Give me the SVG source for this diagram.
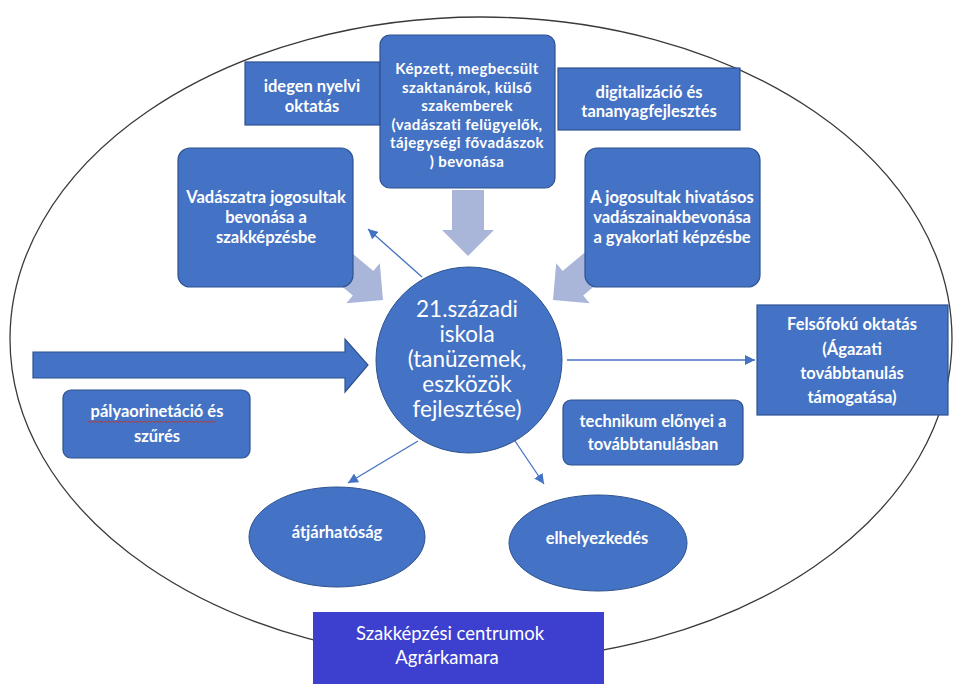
<svg xmlns="http://www.w3.org/2000/svg" width="955" height="684" viewBox="0 0 955 684">
  <defs>
    <style>
      .box { fill: #4472C4; stroke: #2F528F; stroke-width: 1.2; }
      .t { fill: #FFFFFF; font-family: Lato, "Liberation Sans", sans-serif; font-weight: bold; font-size: 16.5px; text-anchor: middle; }
      .ts { fill: #FFFFFF; font-family: Lato, "Liberation Sans", sans-serif; font-weight: bold; font-size: 15px; letter-spacing: 0.4px; text-anchor: middle; }
      .tc { fill: #FFFFFF; font-family: Lato, "Liberation Sans", sans-serif; font-size: 22.5px; text-anchor: middle; }
      .tb { fill: #FFFFFF; font-family: Lato, "Liberation Sans", sans-serif; font-size: 18.5px; text-anchor: middle; }
      .thin { stroke: #4472C4; stroke-width: 1.3; fill: none; }
      .block { fill: #A9B6DA; }
    </style>
    <marker id="ah" markerUnits="userSpaceOnUse" markerWidth="12" markerHeight="10" refX="10" refY="5" orient="auto">
      <path d="M0,0 L10,5 L0,10 Z" fill="#4472C4"/>
    </marker>
    <path id="blk" d="M-66,-16 L-26,-16 L-26,-26 L0,0 L-26,26 L-26,16 L-66,16 Z"/>
  </defs>

  <rect width="955" height="684" fill="#FFFFFF"/>

  <g id="frame">
    <ellipse cx="481" cy="339" rx="471" ry="322" fill="none" stroke="#3A3A3A" stroke-width="1.3"/>
  </g>

  <g id="connectors">
    <use href="#blk" class="block" transform="translate(468,256) rotate(90)"/>
    <use href="#blk" class="block" transform="translate(383,300) rotate(40)"/>
    <use href="#blk" class="block" transform="translate(553,300) rotate(140)"/>
    <path d="M33,352 L345,352 L345,339 L368,365 L345,392 L345,378 L33,378 Z" fill="#4472C4" stroke="#2F528F" stroke-width="1.2"/>
    <line class="thin" x1="422" y1="277" x2="368" y2="229" marker-end="url(#ah)"/>
    <line class="thin" x1="567" y1="360" x2="755" y2="360" marker-end="url(#ah)"/>
    <line class="thin" x1="418" y1="441" x2="348" y2="483" marker-end="url(#ah)"/>
    <line class="thin" x1="515" y1="441" x2="544" y2="484" marker-end="url(#ah)"/>
  </g>

  <g id="node-idegen">
    <rect class="box" x="245" y="62" width="135" height="63"/>
    <text class="t" x="312" y="92">idegen nyelvi</text>
    <text class="t" x="312" y="112">oktatás</text>
  </g>

  <g id="node-digitalizacio">
    <rect class="box" x="558" y="68" width="182" height="62"/>
    <text class="t" x="649" y="98">digitalizáció és</text>
    <text class="t" x="649" y="117">tananyagfejlesztés</text>
  </g>

  <g id="node-szaktanarok">
    <rect class="box" x="380" y="35" width="175" height="153" rx="10"/>
    <text class="ts" x="467" y="74">Képzett, megbecsült</text>
    <text class="ts" x="467" y="92.5">szaktanárok, külső</text>
    <text class="ts" x="467" y="111">szakemberek</text>
    <text class="ts" x="467" y="129.5">(vadászati felügyelők,</text>
    <text class="ts" x="467" y="148">tájegységi fővadászok</text>
    <text class="ts" x="467" y="166.5">) bevonása</text>
  </g>

  <g id="node-vadaszatra">
    <rect class="box" x="178" y="148" width="175" height="139" rx="12"/>
    <text class="t" x="266" y="203">Vadászatra jogosultak</text>
    <text class="t" x="266" y="223">bevonása a</text>
    <text class="t" x="266" y="243">szakképzésbe</text>
  </g>

  <g id="node-hivatasos">
    <rect class="box" x="585" y="148" width="175" height="139" rx="12"/>
    <text class="t" x="672" y="203">A jogosultak hivatásos</text>
    <text class="t" x="672" y="223">vadászainakbevonása</text>
    <text class="t" x="672" y="243">a gyakorlati képzésbe</text>
  </g>

  <g id="node-iskola">
    <circle cx="469" cy="360" r="93" fill="#4472C4" stroke="#2F528F" stroke-width="1"/>
    <text class="tc" x="467" y="317">21.századi</text>
    <text class="tc" x="467" y="342">iskola</text>
    <text class="tc" x="467" y="367">(tanüzemek,</text>
    <text class="tc" x="467" y="392">eszközök</text>
    <text class="tc" x="467" y="417">fejlesztése)</text>
  </g>

  <g id="node-felsofoku">
    <rect class="box" x="757" y="305" width="191" height="110"/>
    <text class="t" x="852" y="330">Felsőfokú oktatás</text>
    <text class="t" x="852" y="355">(Ágazati</text>
    <text class="t" x="852" y="379">továbbtanulás</text>
    <text class="t" x="852" y="403">támogatása)</text>
  </g>

  <g id="node-technikum">
    <rect class="box" x="563" y="400" width="180" height="65" rx="8"/>
    <text class="t" x="653" y="427">technikum előnyei a</text>
    <text class="t" x="653" y="450">továbbtanulásban</text>
  </g>

  <g id="node-palyaorientacio">
    <rect class="box" x="63" y="390" width="187" height="68" rx="8"/>
    <text class="t" x="157" y="417">pályaorinetáció és</text>
    <text class="t" x="157" y="442">szűrés</text>
    <path d="M88,421 l2,1.5 l2,-1.5 l2,1.5 l2,-1.5 l2,1.5 l2,-1.5 l2,1.5 l2,-1.5 l2,1.5 l2,-1.5 l2,1.5 l2,-1.5 l2,1.5 l2,-1.5 l2,1.5 l2,-1.5 l2,1.5 l2,-1.5 l2,1.5 l2,-1.5 l2,1.5 l2,-1.5 l2,1.5 l2,-1.5 l2,1.5 l2,-1.5 l2,1.5 l2,-1.5 l2,1.5 l2,-1.5 l2,1.5 l2,-1.5 l2,1.5 l2,-1.5 l2,1.5 l2,-1.5 l2,1.5 l2,-1.5 l2,1.5 l2,-1.5 l2,1.5 l2,-1.5 l2,1.5 l2,-1.5 l2,1.5 l2,-1.5 l2,1.5 l2,-1.5 l2,1.5 l2,-1.5 l2,1.5 l2,-1.5 l2,1.5 l2,-1.5 l2,1.5 l2,-1.5 l2,1.5 l2,-1.5 l2,1.5 l2,-1.5 l2,1.5 l2,-1.5 l2,1.5 l2,-1.5" fill="none" stroke="#C0392B" stroke-width="0.9"/>
  </g>

  <g id="node-atjarhatosag">
    <ellipse cx="337" cy="537" rx="88" ry="50" fill="#4472C4" stroke="#2F528F" stroke-width="1"/>
    <text class="t" x="337" y="538">átjárhatóság</text>
  </g>

  <g id="node-elhelyezkedes">
    <ellipse cx="598" cy="543" rx="89" ry="48" fill="#4472C4" stroke="#2F528F" stroke-width="1"/>
    <text class="t" x="597" y="544">elhelyezkedés</text>
  </g>

  <g id="node-centrumok">
    <rect x="313" y="612" width="291" height="72" fill="#3D40CF"/>
    <text class="tb" x="450" y="640">Szakképzési centrumok</text>
    <text class="tb" x="447" y="664">Agrárkamara</text>
  </g>
</svg>
